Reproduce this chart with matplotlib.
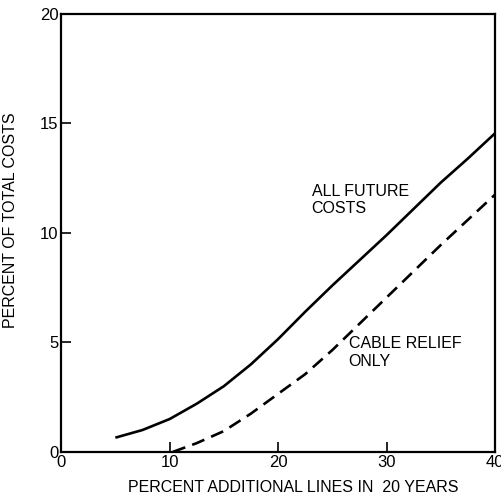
import matplotlib.pyplot as plt

plt.rcParams['font.family'] = ['Liberation Sans', 'DejaVu Sans']

# All future costs (solid curve)
all_x = [5, 7.5, 10, 12.5, 15, 17.5, 20, 22.5, 25, 27.5, 30, 32.5, 35, 37.5, 40]
all_y = [0.65, 1.0, 1.5, 2.2, 3.0, 4.0, 5.15, 6.4, 7.6, 8.75, 9.9, 11.1, 12.3, 13.4, 14.55]

# Cable relief only (dashed curve)
cable_x = [10.3, 12.5, 15, 17.5, 20, 22.5, 25, 27.5, 30, 32.5, 35, 37.5, 40]
cable_y = [0.0, 0.4, 0.95, 1.75, 2.65, 3.55, 4.65, 5.85, 7.05, 8.25, 9.45, 10.6, 11.75]

xticks = [0, 10, 20, 30, 40]
yticks = [0, 5, 10, 15, 20]

fig = plt.figure(figsize=(5.01, 5.01), dpi=100)
ax = fig.add_axes([0.122, 0.098, 0.866, 0.874])

ax.plot(all_x, all_y, color='black', lw=1.9, solid_capstyle='butt')
ax.plot(cable_x, cable_y, color='black', lw=1.9, dashes=(5, 2.8))

fs = 11.5
ax.text(23.1, 11.9, 'ALL FUTURE', fontsize=fs, va='center', ha='left')
ax.text(23.1, 11.1, 'COSTS', fontsize=fs, va='center', ha='left')
ax.text(26.5, 4.95, 'CABLE RELIEF', fontsize=fs, va='center', ha='left')
ax.text(26.5, 4.15, 'ONLY', fontsize=fs, va='center', ha='left')

ax.set_xlim(0, 40)
ax.set_ylim(0, 20)
ax.set_xticks(xticks)
ax.set_yticks(yticks)
ax.tick_params(direction='in', length=7, width=1.2, labelsize=12, pad=2)
for s in ax.spines.values():
    s.set_linewidth(1.6)

ax.set_xlabel('PERCENT ADDITIONAL LINES IN  20 YEARS', fontsize=fs)
ax.set_ylabel('PERCENT OF TOTAL COSTS', fontsize=fs)
ax.xaxis.set_label_coords(0.535, -0.065)
ax.yaxis.set_label_coords(-0.1, 0.53)

fig.savefig('out.png', dpi=100)
